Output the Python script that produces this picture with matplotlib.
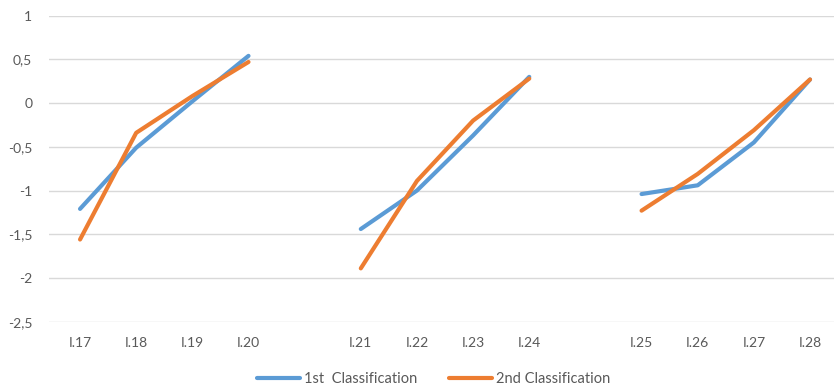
import matplotlib
matplotlib.use("Agg")
import matplotlib.pyplot as plt
import numpy as np

# items, with empty slots between the three blocks
items = ["I.17", "I.18", "I.19", "I.20", "",
         "I.21", "I.22", "I.23", "I.24", "",
         "I.25", "I.26", "I.27", "I.28"]

first = [-1.21, -0.51, 0.02, 0.54, None,
         -1.44, -1.00, -0.37, 0.30, None,
         -1.04, -0.94, -0.45, 0.27]
second = [-1.56, -0.34, 0.08, 0.47, None,
          -1.89, -0.89, -0.20, 0.28, None,
          -1.23, -0.81, -0.31, 0.27]

yticks = [1, 0.5, 0, -0.5, -1, -1.5, -2, -2.5]

plt.rcParams['font.family'] = ['Lato', 'DejaVu Sans']

fig = plt.figure(figsize=(8.34, 3.91), dpi=100)
ax = fig.add_axes([0.0588, 0.1772, 0.9412, 0.7828])

x = np.arange(len(items))
y1 = np.array([np.nan if v is None else v for v in first])
y2 = np.array([np.nan if v is None else v for v in second])

ax.plot(x, y1, color="#5B9BD5", lw=3.0, solid_capstyle="round",
        solid_joinstyle="round", label="1st  Classification", zorder=3)
ax.plot(x, y2, color="#ED7D31", lw=3.0, solid_capstyle="round",
        solid_joinstyle="round", label="2nd Classification", zorder=3)

ax.set_xlim(-0.552, len(items) - 0.573)
ax.set_ylim(-2.5, 1)
ax.set_yticks(yticks)
ax.set_yticklabels([("%g" % v).replace(".", ",") for v in yticks])
ax.set_xticks(x[[i for i, s in enumerate(items) if s]])
ax.set_xticklabels([s for s in items if s])

ax.grid(axis="y", color="#d9d9d9", lw=1.0)
ax.set_axisbelow(True)
for s in ax.spines.values():
    s.set_visible(False)
ax.tick_params(length=0, colors="#595959", labelsize=10)
ax.tick_params(axis="y", pad=12)
ax.tick_params(axis="x", pad=11)

leg = fig.legend(loc="lower center", bbox_to_anchor=(0.52, -0.022), ncol=2,
                 frameon=False, fontsize=10.5, handlelength=2.9,
                 columnspacing=2.2, handletextpad=0.3)
for t in leg.get_texts():
    t.set_color("#595959")

plt.savefig("out.png", dpi=100)
